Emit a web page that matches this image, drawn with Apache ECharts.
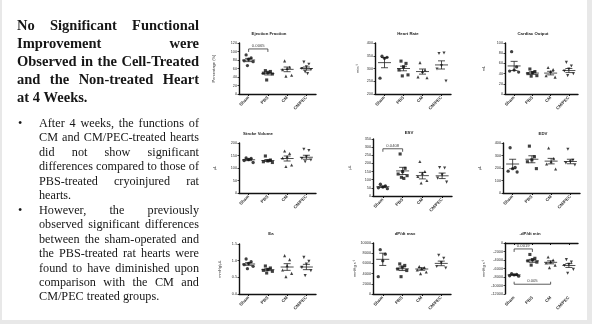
<!DOCTYPE html>
<html>
<head>
<meta charset="utf-8">
<script src="https://cdn.jsdelivr.net/npm/echarts@6/dist/echarts.min.js"></script>
<style>
  html, body { margin:0; padding:0; background:#ffffff; }
  #wrap { position:relative; width:592px; height:324px; overflow:hidden; background:#fff; }
  #chart { position:absolute; left:0; top:0; width:592px; height:324px; }
  .edge { position:absolute; background:#e8e8e8; z-index:3; }
  #txt { position:absolute; left:0; top:0; z-index:2; font-family:"Liberation Serif","Times New Roman",serif; color:#161616; }
  .ln { display:flex; justify-content:space-between; white-space:nowrap; }
  .ln.last { justify-content:flex-start; }
  .ln.last span { margin-right:0.25em; }
  #head { position:absolute; left:17px; top:17px; width:182px; font-weight:bold; font-size:14.5px; line-height:17.9px; }
  #body { position:absolute; left:39px; top:116px; width:160px; font-size:12.2px; line-height:14.45px; }
  .bul { position:absolute; left:18px; font-size:12.2px; line-height:14.45px; }
</style>
</head>
<body>
<div id="wrap">
  <div id="chart"></div>
  <div id="txt"><div id="head"></div><div id="body"></div></div>
  <div class="edge" style="left:0;top:0;width:2px;height:324px;"></div>
  <div class="edge" style="left:587px;top:0;width:5px;height:324px;"></div>
  <div class="edge" style="left:0;top:320px;width:592px;height:4px;"></div>
</div>
<script>
// ---------------- text of the slide ----------------
const headLines = ['No Significant Functional', 'Improvement were', 'Observed in the Cell-Treated', 'and the Non-treated Heart', 'at 4 Weeks.'];
const bodyLines = ['After 4 weeks, the functions of', 'CM and CM/PEC-treated hearts', 'did not show significant',
  'differences compared to those of', 'PBS-treated cryoinjured rat', 'hearts.',
  'However, the previously', 'observed significant differences', 'between the sham-operated and',
  'the PBS-treated rat hearts were', 'found to have diminished upon', 'comparison with the CM and', 'CM/PEC treated groups.'];
const bodyLastIdx = [5, 12];
const bulletIdx = [0, 6];

// ---------------- chart data ----------------
const categories = ['Sham', 'PBS', 'CM', 'CM/PEC'];
const panelTitles = ['Ejection Fraction', 'Heart Rate', 'Cardiac Output', 'Stroke Volume', 'ESV', 'EDV', 'Ea', 'dP/dt max', '-dP/dt min'];
const yAxisNames = ['Percentage (%)', 'min\u207B\u00B9', 'mL', '\u03BCL', '\u03BCL', '\u03BCL', 'mmHg/\u03BCL', 'mmHg s\u207B\u00B9', 'mmHg s\u207B\u00B9'];
const yMin  = [0, 200, 0, 0, 0, 0, 0, 0, -12000];
const yMax  = [120, 400, 100, 200, 350, 400, 1.5, 10000, 0];
const yStep = [20, 50, 20, 50, 50, 100, 0.5, 2000, 2000];

// Ejection Fraction (%)
const efPoints = [[92, 85, 82, 78, 76, 67], [55, 53, 51, 49, 47, 33], [78, 63, 60, 57, 44, 42], [75, 70, 64, 60, 57, 52, 48]];
const efMean = [80, 48, 58, 60];
const efSem  = [3.8, 3.2, 5.5, 3.5];
// Heart Rate (min^-1)
const hrPoints = [[348, 344, 340, 262], [329, 320, 307, 294, 275, 271], [323, 294, 288, 267, 264], [359, 361, 311, 298, 251]];
const hrMean = [323, 300, 288, 314];
const hrSem  = [20, 9, 10, 16];
// Cardiac Output (mL)
const coPoints = [[83, 53, 47, 45, 43], [49, 44, 42, 40, 36, 35], [52, 48, 44, 36, 33], [62, 55, 49, 45, 40, 36]];
const coMean = [55, 41, 41, 46];
const coSem  = [9, 2.5, 3.5, 4];
// Stroke Volume (uL)
const svPoints = [[140, 138, 134, 130, 122], [148, 132, 128, 125, 122], [168, 158, 145, 140, 112, 106], [175, 170, 145, 138, 132, 125]];
const svMean = [133, 130, 138, 143];
const svSem  = [3.5, 4, 10, 8];
// ESV (uL)
const esvPoints = [[72, 62, 55, 50, 45], [258, 170, 150, 135, 125, 115, 108], [212, 150, 140, 120, 95, 80], [175, 172, 130, 110, 85]];
const esvMean = [57, 154, 125, 124];
const esvSem  = [5, 22, 20, 17];
// EDV (uL)
const edvPoints = [[362, 205, 195, 175, 168], [375, 290, 265, 250, 195], [360, 275, 250, 232, 192], [350, 262, 250, 240, 225]];
const edvMean = [232, 270, 255, 252];
const edvSem  = [38, 28, 22, 18];
// Ea (mmHg/uL)
const eaPoints = [[1.05, 0.97, 0.92, 0.88, 0.83, 0.76], [0.84, 0.78, 0.74, 0.71, 0.68, 0.63], [1.15, 1.03, 0.85, 0.72, 0.62, 0.52], [1.1, 0.98, 0.9, 0.8, 0.7, 0.55]];
const eaMean = [0.9, 0.73, 0.81, 0.81];
const eaSem  = [0.04, 0.03, 0.1, 0.08];
// dP/dt max (mmHg s^-1)
const dpmaxPoints = [[8700, 7800, 6500, 3400], [5900, 5600, 5300, 4900, 4600, 3400], [5400, 5200, 5000, 4700, 4300, 4000], [7600, 7000, 6100, 5400, 5100]];
const dpmaxMean = [6800, 4950, 4900, 6000];
const dpmaxSem  = [1200, 350, 250, 450];
// -dP/dt min (mmHg s^-1)
const dpminPoints = [[-7200, -7400, -7500, -7700, -7800], [-2700, -3600, -3900, -4200, -4500, -5200], [-3300, -4000, -4400, -4700, -5200, -5800], [-3900, -4500, -5000, -5300, -6200, -7100]];
const dpminMean = [-7500, -4200, -4550, -5300];
const dpminSem  = [120, 350, 350, 450];

// significance brackets: [panel, fromCategory, toCategory, yValue, label, tickDirection(1 = down, -1 = up)]
const brackets = [
  [0, 0, 1, 106, '0.0065', 1],
  [4, 0, 1, 290, '0.0408', 1],
  [8, 0, 1, -1400, '0.0019', 1],
  [8, 0, 2, -9700, '0.005', -1]
];

const allPoints = [efPoints, hrPoints, coPoints, svPoints, esvPoints, edvPoints, eaPoints, dpmaxPoints, dpminPoints];
const allMeans = [efMean, hrMean, coMean, svMean, esvMean, edvMean, eaMean, dpmaxMean, dpminMean];
const allSems = [efSem, hrSem, coSem, svSem, esvSem, edvSem, eaSem, dpmaxSem, dpminSem];

// ---------------- layout (style) ----------------
const grids = [
  [239, 43, 77, 51], [375, 43, 76, 51], [505, 43, 73, 51],
  [239, 143, 77, 50], [373, 139, 79, 57], [503, 143, 77, 50],
  [239, 244, 77, 50], [373, 243, 78, 51], [505, 243, 73, 51]
];
const titlePos = [[269, 34], [408, 34], [533, 34], [258, 134], [409, 133], [543, 134], [271, 234], [405, 234], [530, 234]];
const nameGaps = [23, 15, 19, 22, 21, 21, 17, 16, 19];
const jitter = [-2.5, 2.5, 0, -4.5, 4.5, -1.2, 1.2];
const symbols = ['circle', 'rect', 'triangle', 'triangle'];
const symbolRot = [0, 0, 0, 180];

// ---------------- left text ----------------
function makeLine(text, last) {
  const d = document.createElement('div');
  d.className = 'ln' + (last ? ' last' : '');
  text.split(' ').forEach(w => { const s = document.createElement('span'); s.textContent = w; d.appendChild(s); });
  return d;
}
const head = document.getElementById('head');
headLines.forEach((t, i) => head.appendChild(makeLine(t, i === headLines.length - 1)));
const body = document.getElementById('body');
bodyLines.forEach((t, i) => body.appendChild(makeLine(t, bodyLastIdx.includes(i))));
bulletIdx.forEach(i => {
  const b = document.createElement('div');
  b.className = 'bul';
  b.style.top = (116 + i * 14.45) + 'px';
  b.textContent = '\u2022';
  document.getElementById('txt').appendChild(b);
});

// ---------------- chart ----------------
const chart = echarts.init(document.getElementById('chart'), null, { renderer: 'canvas' });
const option = { animation: false, backgroundColor: 'transparent', grid: [], xAxis: [], yAxis: [], series: [], graphic: [] };

panelTitles.forEach((title, p) => {
  const g = grids[p];
  option.grid.push({ left: g[0], top: g[1], width: g[2], height: g[3], containLabel: false });
  option.xAxis.push({
    type: 'category', gridIndex: p, data: categories, boundaryGap: true,
    axisLine: { lineStyle: { color: '#111', width: 1.4 } },
    axisTick: { show: true, alignWithLabel: true, length: 2, lineStyle: { color: '#111', width: 1 } },
    axisLabel: { rotate: 45, fontSize: 4.4, fontWeight: 'bold', color: '#333', margin: 3, fontFamily: 'Liberation Sans' }
  });
  option.yAxis.push({
    type: 'value', gridIndex: p, min: yMin[p], max: yMax[p], interval: yStep[p],
    name: yAxisNames[p], nameLocation: 'middle', nameGap: nameGaps[p],
    nameTextStyle: { fontSize: 4, color: '#333', fontFamily: 'Liberation Sans' },
    axisLine: { show: true, lineStyle: { color: '#111', width: 1.4 } },
    axisTick: { show: true, length: 1.5, lineStyle: { color: '#111', width: 0.8 } },
    splitLine: { show: false },
    axisLabel: { fontSize: 3.8, color: '#333', margin: 2, fontFamily: 'Liberation Sans',
      formatter: v => (p === 6 ? v.toFixed(1) : String(v)) }
  });
  // dots
  allPoints[p].forEach((grp, gi) => {
    option.series.push({
      type: 'scatter', xAxisIndex: p, yAxisIndex: p, symbol: symbols[gi], symbolRotate: symbolRot[gi],
      symbolSize: gi === 0 ? 3.3 : 3.1, itemStyle: { color: '#111' }, silent: true,
      data: grp.map((v, i) => ({ value: [gi, v], symbolOffset: [jitter[i % jitter.length], 0] }))
    });
  });
  // mean and SEM
  option.series.push({
    type: 'custom', xAxisIndex: p, yAxisIndex: p, silent: true,
    data: allMeans[p].map((m, i) => [i, m, allSems[p][i]]),
    renderItem: (params, api) => {
      const c = api.coord([api.value(0), api.value(1)]);
      const hi = api.coord([api.value(0), api.value(1) + api.value(2)]);
      const lo = api.coord([api.value(0), api.value(1) - api.value(2)]);
      const st = { stroke: '#222', lineWidth: 0.8 };
      return { type: 'group', children: [
        { type: 'line', shape: { x1: c[0] - 6.5, y1: c[1], x2: c[0] + 6.5, y2: c[1] }, style: st },
        { type: 'line', shape: { x1: c[0], y1: lo[1], x2: c[0], y2: hi[1] }, style: st },
        { type: 'line', shape: { x1: c[0] - 3.5, y1: lo[1], x2: c[0] + 3.5, y2: lo[1] }, style: st },
        { type: 'line', shape: { x1: c[0] - 3.5, y1: hi[1], x2: c[0] + 3.5, y2: hi[1] }, style: st }
      ] };
    }
  });
  // significance brackets
  const br = brackets.filter(b => b[0] === p);
  if (br.length) {
    option.series.push({
      type: 'custom', xAxisIndex: p, yAxisIndex: p, silent: true, clip: false,
      data: br.map(b => [b[1], b[2], b[3]]),
      renderItem: (params, api) => {
        const b = br[params.dataIndex];
        const a = api.coord([api.value(0), api.value(2)]);
        const e = api.coord([api.value(1), api.value(2)]);
        const t = 3 * b[5];
        const st = { stroke: '#333', lineWidth: 0.8 };
        return { type: 'group', children: [
          { type: 'line', shape: { x1: a[0], y1: a[1], x2: e[0], y2: e[1] }, style: st },
          { type: 'line', shape: { x1: a[0], y1: a[1] - (t < 0 ? 2.5 : 0), x2: a[0], y2: a[1] + (t > 0 ? t : 0) }, style: st },
          { type: 'line', shape: { x1: e[0], y1: e[1] - (t < 0 ? 2.5 : 0), x2: e[0], y2: e[1] + (t > 0 ? t : 0) }, style: st },
          { type: 'text', x: (a[0] + e[0]) / 2, y: a[1] - 1,
            style: { text: b[4], fill: '#444', fontSize: 4.2, fontFamily: 'Liberation Sans', textAlign: 'center', textVerticalAlign: 'bottom' } }
        ] };
      }
    });
  }
  // panel title
  option.graphic.push({
    type: 'text', x: titlePos[p][0], y: titlePos[p][1], silent: true,
    style: { text: title, fill: '#222', fontSize: 4.3, fontWeight: 'bold', fontFamily: 'Liberation Sans', textAlign: 'center', textVerticalAlign: 'middle' }
  });
});

chart.setOption(option);
</script>
</body>
</html>
